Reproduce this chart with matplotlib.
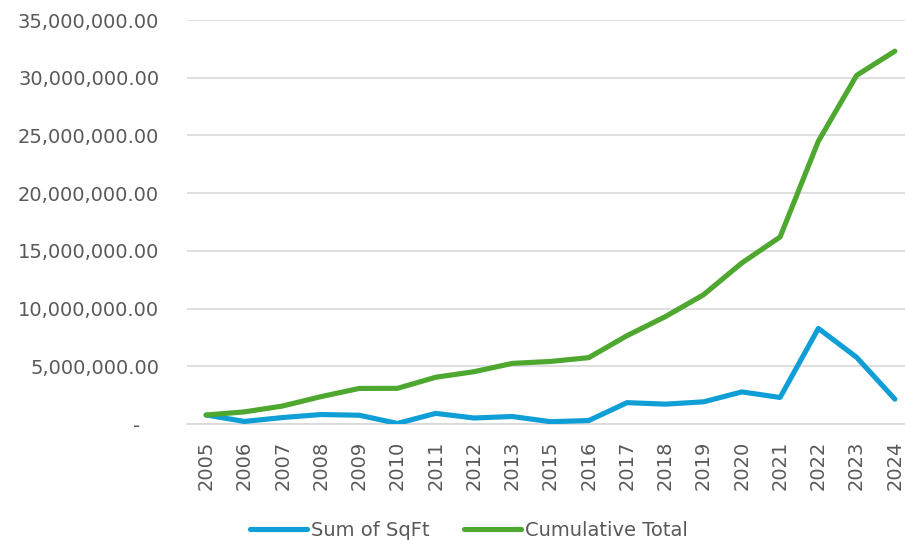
import matplotlib.pyplot as plt
from matplotlib.ticker import FuncFormatter

years = ['2005', '2006', '2007', '2008', '2009', '2010', '2011', '2012', '2013', '2015',
         '2016', '2017', '2018', '2019', '2020', '2021', '2022', '2023', '2024']
sum_sqft = [780000, 220000, 560000, 820000, 760000, 50000, 920000, 520000, 650000, 200000,
            300000, 1850000, 1720000, 1920000, 2780000, 2300000, 8280000, 5780000, 2150000]
cumulative = [780000, 1050000, 1560000, 2370000, 3080000, 3090000, 4050000, 4530000, 5250000, 5420000,
              5750000, 7650000, 9300000, 11200000, 13950000, 16200000, 24500000, 30200000, 32300000]

blue = '#0F9ED5'
green = '#4EA72E'
grey_text = '#595959'
grid_col = '#D9D9D9'

plt.rcParams['font.family'] = 'DejaVu Sans'

fig = plt.figure(figsize=(9.05, 5.4), dpi=100)
ax = fig.add_axes([187 / 905, 116 / 540, 727 / 905, 404 / 540])

x = range(len(years))
ax.plot(x, sum_sqft, color=blue, lw=3.7, solid_capstyle='round', solid_joinstyle='round',
        label='Sum of SqFt', zorder=3)
ax.plot(x, cumulative, color=green, lw=3.7, solid_capstyle='round', solid_joinstyle='round',
        label='Cumulative Total', zorder=3)

ax.set_xlim(-0.5, len(years) - 0.5)
ax.set_ylim(0, 35000000)
ax.set_yticks(range(0, 35000001, 5000000))
ax.yaxis.set_major_formatter(FuncFormatter(lambda v, p: '-   ' if v == 0 else f'{v:,.2f}'))
ax.set_xticks(list(x))
ax.set_xticklabels(years, rotation=90)

ax.grid(axis='y', color=grid_col, lw=1.2)
ax.set_axisbelow(True)
for s in ['top', 'right', 'left']:
    ax.spines[s].set_visible(False)
ax.spines['bottom'].set_color(grid_col)
ax.spines['bottom'].set_linewidth(1.2)
ax.tick_params(axis='both', length=0, labelsize=14, colors=grey_text)
ax.tick_params(axis='y', pad=20)
ax.tick_params(axis='x', pad=12)

fig.legend(loc='center', bbox_to_anchor=(469 / 905, 1 - 530 / 540), ncol=2, frameon=False,
           fontsize=14, labelcolor=grey_text, handlelength=2.9, handletextpad=0.2,
           columnspacing=1.8)

fig.savefig('out.png', dpi=100)
